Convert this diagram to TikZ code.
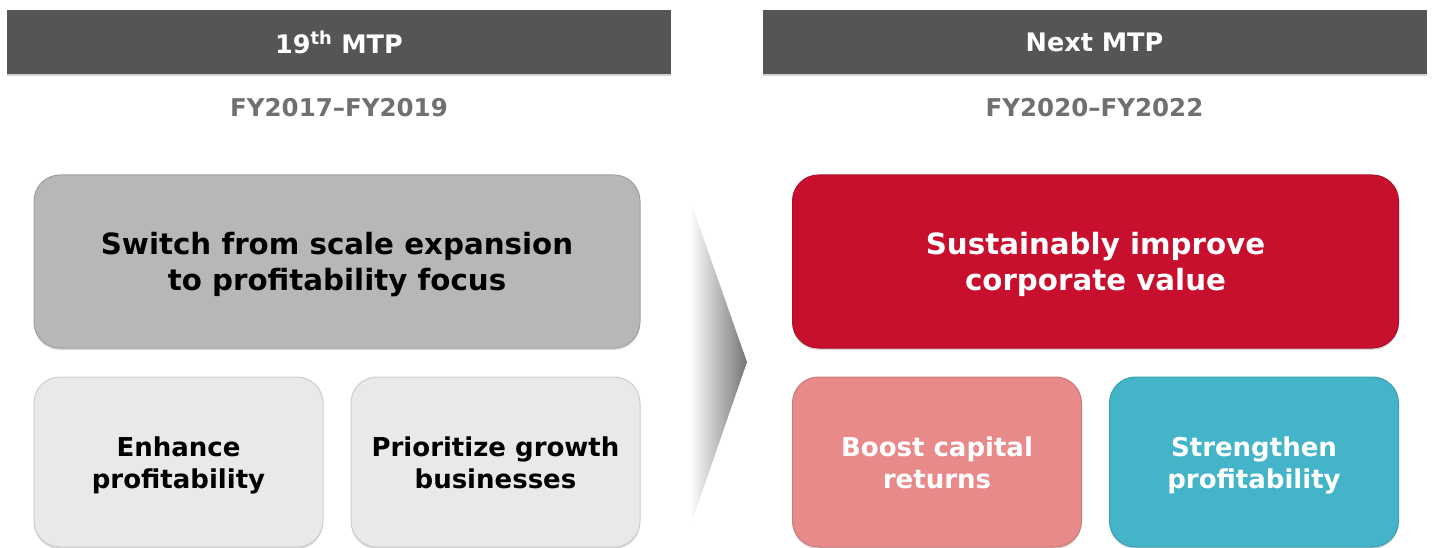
\documentclass[tikz,border=0pt]{standalone}
\usepackage{fontspec}
\setmainfont{DejaVu Sans}
\usetikzlibrary{positioning,shadows}

\definecolor{hdrgray}{HTML}{555555}
\definecolor{fygray}{HTML}{707070}
\definecolor{boxgray}{HTML}{B7B7B7}
\definecolor{boxlight}{HTML}{E9E9E9}
\definecolor{mtpred}{HTML}{C8102E}
\definecolor{mtppink}{HTML}{E88A8A}
\definecolor{mtpteal}{HTML}{44B5C9}

\tikzset{
	hdr/.style={fill=hdrgray, text=white, font=\fontsize{25.5}{30}\selectfont\bfseries,
		minimum width=664pt, minimum height=64pt, inner sep=0pt, outer sep=0pt,
		drop shadow={shadow xshift=0pt, shadow yshift=-2pt, opacity=0.35}},
	fy/.style={text=fygray, font=\fontsize{24.5}{29}\selectfont\bfseries},
	goalbox/.style={fill=#1, draw=#1!88!black, line width=1pt, rounded corners=26pt,
		align=center, inner sep=0pt, outer sep=0pt,
		execute at begin node={\vrule width 0pt height 2.29em},
		execute at end node={\vrule width 0pt height 0pt depth 0.28em},
		drop shadow={shadow xshift=0pt, shadow yshift=-2pt, opacity=0.3}},
	bigbox/.style={goalbox=#1, minimum width=606pt, minimum height=173pt,
		font=\fontsize{29.3}{36}\selectfont\bfseries},
	subbox/.style={goalbox=#1, minimum width=289pt, minimum height=170pt,
		font=\fontsize{26}{32}\selectfont\bfseries},
}

\begin{document}
\begin{tikzpicture}[x=1pt,y=-1pt]
	\useasboundingbox (0,0) rectangle (1432,548);
	\node[hdr] (hdrL) at (339,42) {19\textsuperscript{th} MTP};
	\node[hdr] (hdrR) at (1094.5,42) {Next MTP};
	\node[fy] (fyL) at (339,108) {FY2017\textendash FY2019};
	\node[fy] (fyR) at (1094.5,108) {FY2020\textendash FY2022};

	\node[bigbox=boxgray] (switch) at (337,261.5) {Switch from scale expansion\\to profitability focus};
	\node[bigbox=mtpred, text=white] (improve) at (1095.5,261.5) {Sustainably improve\\corporate value};

	\node[subbox=boxlight, below right=29pt and 0pt of switch.south west] (enhance) {Enhance\\profitability};
	\node[subbox=boxlight, below left=29pt and 0pt of switch.south east] (prioritize) {Prioritize growth\\businesses};
	\node[subbox=mtppink, text=white, below right=29pt and 0pt of improve.south west] (boost) {Boost capital\\returns};
	\node[subbox=mtpteal, text=white, below left=29pt and 0pt of improve.south east] (strengthen) {Strengthen\\profitability};

	\shade[left color=white, right color=black!55] (690,200) -- (747,362) -- (690,527) -- cycle;
\end{tikzpicture}
\end{document}
